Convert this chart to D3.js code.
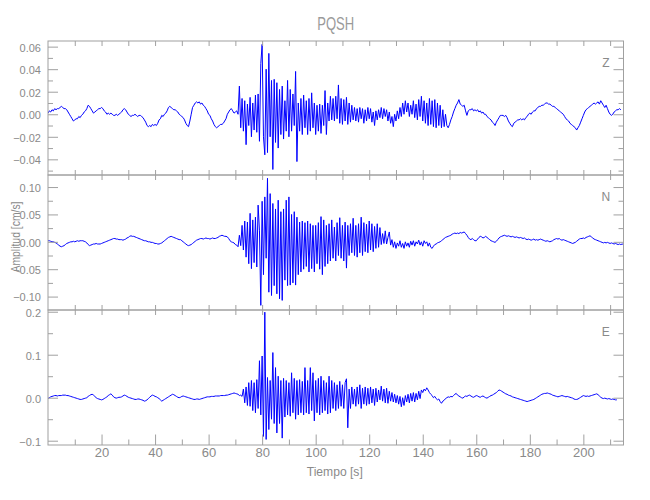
<!DOCTYPE html>
<html>
<head>
<meta charset="utf-8">
<script src="https://cdn.jsdelivr.net/npm/d3@7"></script>
<style>
  html, body { margin: 0; padding: 0; background: #fff; }
  svg { display: block; }
</style>
</head>
<body>
<svg id="chart" width="650" height="500"></svg>
<script>
// ---------------- DATA ----------------
const stationTitle = "PQSH";
const componentNames = ["Z", "N", "E"];
const xAxisTitle = "Tiempo [s]";
const yAxisTitle = "Amplitud [cm/s]";

// Sampling of the traces (seconds)
const sampleStart = 0;
const sampleStep = 0.5;

// Amplitudes in units of 0.001 cm/s, one value per sample
const zMilli = [
 1,3,2,4,3,5,4,5,5,6,
 7,6,5,5,4,2,0,-2,-4,-6,
 -5,-4,-4,-2,-3,-1,0,2,3,5,
 8,7,5,3,1,2,3,4,5,5,
 6,5,3,2,0,1,0,1,0,-1,
 -1,0,-1,0,1,2,4,5,4,2,
 0,-1,-2,-1,-1,0,-1,-2,-1,-1,
 -2,-3,-5,-7,-10,-11,-10,-11,-9,-10,
 -9,-10,-8,-5,-4,-1,-2,0,1,3,
 6,7,6,5,4,4,3,2,0,-1,
 -2,-3,-5,-8,-10,-11,-6,0,6,8,
 10,11,10,11,9,10,8,7,5,3,
 0,-1,-4,-6,-9,-11,-12,-11,-10,-9,
 -9,-8,-6,-4,0,2,4,5,3,1,
 2,3,0,25,-12,14,-15,12,-27,9,
 -10,15,-20,10,-14,17,-16,18,-24,45,
 62,-20,-36,40,-34,54,-20,30,-49,31,
 -25,28,-30,22,-18,25,-22,12,-15,30,
 -20,22,-15,18,-10,38,-42,10,-15,14,
 -18,17,-12,12,-18,14,-15,19,-12,10,
 -18,8,-15,9,-17,8,-10,21,-18,10,
 -6,16,-5,14,-6,16,-4,26,-8,14,
 -9,13,-6,15,-9,10,-7,8,-5,6,
 -6,5,-7,6,-4,5,-8,4,-6,6,
 -4,5,-7,2,-10,3,-5,4,-3,6,
 -4,5,-2,4,-6,2,-8,-2,-11,0,
 -6,3,-4,6,-2,10,0,12,2,10,
 -2,8,0,12,-3,9,-5,13,-2,16,
 -6,12,-8,10,-10,14,-9,12,-11,13,
 -12,10,-10,8,-12,4,-11,0,-10,-12,
 -9,-5,-2,2,5,8,10,13,9,8,
 7,8,3,-1,3,4,4,5,3,4,
 3,4,2,3,1,2,0,0,-2,-3,
 -4,-5,-7,-8,-10,-7,-5,-3,-1,-1,
 -1,-2,-1,-3,-6,-8,-10,-11,-8,-7,
 -6,-5,-5,-4,-5,-4,-5,-3,-2,0,
 1,0,2,3,3,5,6,7,7,8,
 8,9,10,10,9,9,8,7,7,6,
 5,4,3,2,1,0,-2,-4,-5,-6,
 -8,-9,-10,-11,-12,-14,-12,-10,-7,-4,
 -1,2,4,5,6,7,8,9,10,9,
 10,11,9,12,10,8,6,8,5,2,
 0,-1,0,2,3,4,4,5,4
];

const nMilli = [
 2,2,1,0,0,-1,-2,-4,-6,-8,
 -9,-8,-7,-5,-3,-2,-1,0,0,1,
 0,1,2,1,2,2,2,1,0,-2,
 -5,-7,-6,-5,-4,-4,-3,-4,-4,-4,
 -3,-2,-1,0,1,2,3,4,5,6,
 6,5,5,4,4,4,3,4,5,7,
 8,10,11,10,10,9,8,7,6,5,
 4,3,2,2,1,0,0,-1,-1,-2,
 -3,-3,-4,-4,-3,-2,0,2,4,6,
 8,9,10,9,8,7,6,5,4,4,
 2,0,-2,-4,-6,-7,-6,-5,-3,-1,
 1,3,4,5,6,6,5,6,7,6,
 6,5,6,7,6,6,7,8,10,11,
 12,11,10,10,9,6,2,0,-1,-2,
 -5,-6,-9,12,-7,30,-15,38,-28,36,
 -40,52,-49,40,-38,45,-46,67,20,-116,
 74,-60,82,-30,116,-92,88,-98,70,-80,
 60,-95,76,-104,55,-107,60,-70,76,-80,
 82,-79,50,-75,55,-79,45,-60,36,-55,
 38,-50,35,-45,38,-55,33,-49,30,-55,
 30,-40,35,-50,46,-60,40,-45,30,-40,
 33,-35,40,-30,27,-35,35,-25,44,-30,
 30,-35,36,-48,30,-25,33,-20,43,-25,
 30,-28,33,-20,45,-25,35,-18,32,-20,
 38,-15,33,-18,28,-12,33,-10,26,-5,
 15,-3,20,-4,8,18,-6,4,-10,0,
 -12,-2,-8,2,-10,-3,-12,0,-8,-2,
 -10,1,-6,2,-8,0,-4,3,-6,0,
 -8,2,-3,0,-8,-2,-10,-12,-8,-5,
 -4,-2,-1,0,2,4,6,8,9,10,
 11,12,14,15,16,15,16,15,17,16,
 17,18,15,12,8,5,4,6,4,2,
 2,5,8,10,9,7,8,10,8,6,
 4,2,1,0,-1,1,4,7,9,10,
 11,12,11,10,11,10,9,10,9,8,
 9,8,7,8,7,6,7,5,4,5,
 4,3,4,5,3,4,3,4,5,4,
 3,2,1,2,1,0,1,2,4,5,
 6,5,6,4,3,4,3,2,1,0,
 -1,-2,-3,-2,-1,1,3,5,6,6,
 7,6,8,9,10,11,9,7,5,4,
 3,2,1,0,-1,-2,-1,-2,-1,-2,
 -3,-2,-3,-4,-3,-4,-5,-4,-5,-4,-5
];

const eMilli = [
 -2,0,2,3,4,5,5,4,5,5,
 5,6,6,6,5,5,4,3,2,1,
 0,-1,-2,-3,-4,-4,-3,-2,-1,0,
 3,5,7,8,6,3,0,-2,-3,-4,
 -5,-4,-2,0,2,5,7,9,6,2,
 0,-1,0,1,1,2,4,6,5,3,
 1,0,-1,-2,-3,-4,-4,-3,-3,-4,
 -5,-6,-8,-7,-5,-2,1,4,6,5,
 3,2,0,-2,-5,-8,-6,-4,-2,0,
 2,4,6,8,7,5,3,1,0,1,
 3,4,3,2,1,0,-1,-2,-3,-4,
 -4,-3,-3,-4,-3,-2,-1,0,1,2,
 2,2,3,3,3,4,4,4,4,5,
 5,5,5,6,6,7,8,9,10,11,
 10,9,8,5,6,3,20,-12,25,-18,
 35,-20,40,-30,35,-35,42,-25,86,-40,
 97,-90,199,-97,47,-74,40,-50,105,-60,
 70,-82,50,-60,40,-94,45,-45,40,-40,
 35,-43,58,-35,45,-50,40,-40,42,-35,
 38,-40,70,-35,40,-38,70,-30,58,-54,
 40,-35,45,-40,50,-35,40,-30,35,-38,
 50,-35,40,-25,35,-30,30,-25,38,-20,
 30,-25,35,44,-70,20,-25,25,-15,20,
 -20,25,-15,30,-25,22,-15,25,-18,22,
 -15,25,-12,20,-18,22,-10,18,-5,27,
 -8,20,-12,22,-13,15,-8,12,-10,8,
 -12,5,-15,3,-21,0,-18,5,-10,8,
 -12,10,-8,12,-10,10,-5,15,-2,18,
 12,20,16,23,18,12,8,5,0,3,
 -2,-5,-3,-9,-13,-8,-6,-2,0,2,
 1,3,2,5,8,10,6,4,2,0,
 -1,2,4,3,5,6,4,2,1,3,
 5,4,2,1,3,4,2,0,-1,1,
 3,5,6,8,10,12,15,18,17,15,
 13,11,9,8,6,5,4,2,1,0,
 -1,-2,-3,-4,-5,-6,-7,-8,-9,-8,
 -7,-6,-5,-4,-2,0,2,4,6,8,
 9,10,10,11,10,9,8,6,5,4,
 3,2,3,4,5,4,3,2,3,2,
 1,0,-1,-3,-4,-4,-3,-1,1,3,
 5,4,3,4,3,4,5,6,7,8,
 9,7,4,1,-1,-2,-1,-2,-3,-2,
 -3,-4,-3,-4,-5,-5
];

// Axis ranges and ticks
const timeDomain = [0, 215];
const timeTickValues = [20, 40, 60, 80, 100, 120, 140, 160, 180, 200];
const timeTickLabels = ["20", "40", "60", "80", "100", "120", "140", "160", "180", "200"];
const timeMinorTicks = [10, 30, 50, 70, 90, 110, 130, 150, 170, 190, 210];

const zDomain = [-0.0539, 0.065];
const zTickValues = [-0.04, -0.02, 0.00, 0.02, 0.04, 0.06];
const zTickLabels = ["\u22120.04", "\u22120.02", "0.00", "0.02", "0.04", "0.06"];
const zMinorTicks = [-0.05, -0.03, -0.01, 0.01, 0.03, 0.05];

const nDomain = [-0.1245, 0.122];
const nTickValues = [-0.10, -0.05, 0.00, 0.05, 0.10];
const nTickLabels = ["\u22120.10", "\u22120.05", "0.00", "0.05", "0.10"];
const nMinorTicks = [-0.075, -0.025, 0.025, 0.075];

const eDomain = [-0.110, 0.204];
const eTickValues = [-0.1, 0.0, 0.1, 0.2];
const eTickLabels = ["\u22120.1", "0.0", "0.1", "0.2"];
const eMinorTicks = [-0.05, 0.05, 0.15];

// ---------------- DRAWING ----------------
const FONT = "'Liberation Sans', Arial, sans-serif";
const TEXT_COLOR = "#8a8a8a";
const AXIS_COLOR = "#a0a0a0";
const TRACE_COLOR = "#0000ff";

const left = 48, right = 623.5;
const panelTops = [41, 175, 310];
const panelBottoms = [175, 310, 445];

const svg = d3.select("#chart");
svg.append("rect").attr("width", 650).attr("height", 500).attr("fill", "#fff");

const x = d3.scaleLinear().domain(timeDomain).range([left, right]);

const panels = [
  { name: componentNames[0], vals: zMilli, domain: zDomain, ticks: zTickValues, labels: zTickLabels, minor: zMinorTicks },
  { name: componentNames[1], vals: nMilli, domain: nDomain, ticks: nTickValues, labels: nTickLabels, minor: nMinorTicks },
  { name: componentNames[2], vals: eMilli, domain: eDomain, ticks: eTickValues, labels: eTickLabels, minor: eMinorTicks }
];

const defs = svg.append("defs");

panels.forEach((p, i) => {
  const top = panelTops[i], bottom = panelBottoms[i];
  const y = d3.scaleLinear().domain(p.domain).range([bottom, top]);
  const data = p.vals.map((v, k) => ({ t: sampleStart + k * sampleStep, v: v / 1000 }));

  defs.append("clipPath").attr("id", "clip" + i)
    .append("rect").attr("x", left).attr("y", top)
    .attr("width", right - left).attr("height", bottom - top);

  const g = svg.append("g");

  // trace
  g.append("path")
    .datum(data)
    .attr("clip-path", "url(#clip" + i + ")")
    .attr("fill", "none")
    .attr("stroke", TRACE_COLOR)
    .attr("stroke-width", 1)
    .attr("d", d3.line().x(d => x(d.t)).y(d => y(d.v)));

  // left axis (labelled)
  const leftAxis = d3.axisLeft(y).tickValues(p.ticks)
    .tickFormat((d, k) => p.labels[k]).tickSizeInner(-10).tickSizeOuter(0).tickPadding(7);
  const la = g.append("g").attr("transform", `translate(${left},0)`).call(leftAxis);
  const leftMinor = d3.axisLeft(y).tickValues(p.minor).tickFormat("").tickSizeInner(-5).tickSizeOuter(0);
  const lm = g.append("g").attr("transform", `translate(${left},0)`).call(leftMinor);

  // right axis (ticks only)
  const rightAxis = d3.axisRight(y).tickValues(p.ticks).tickFormat("").tickSizeInner(-10).tickSizeOuter(0);
  const ra = g.append("g").attr("transform", `translate(${right},0)`).call(rightAxis);
  const rightMinor = d3.axisRight(y).tickValues(p.minor).tickFormat("").tickSizeInner(-5).tickSizeOuter(0);
  const rm = g.append("g").attr("transform", `translate(${right},0)`).call(rightMinor);

  // top axis ticks
  const allTimeTicks = timeTickValues.concat(timeMinorTicks);
  const topAxis = d3.axisTop(x).tickValues(allTimeTicks).tickFormat("").tickSizeInner(-5).tickSizeOuter(0);
  const ta = g.append("g").attr("transform", `translate(0,${top})`).call(topAxis);

  // bottom axis
  let ba;
  if (i === panels.length - 1) {
    const bottomAxis = d3.axisBottom(x).tickValues(timeTickValues)
      .tickFormat((d, k) => timeTickLabels[k]).tickSizeInner(-10.5).tickSizeOuter(0).tickPadding(3);
    ba = g.append("g").attr("transform", `translate(0,${bottom})`).call(bottomAxis);
    const bottomMinor = d3.axisBottom(x).tickValues(timeMinorTicks).tickFormat("").tickSizeInner(-5.5).tickSizeOuter(0);
    g.append("g").attr("transform", `translate(0,${bottom})`).call(bottomMinor)
      .call(s => s.select(".domain").remove())
      .call(s => s.selectAll("line").attr("stroke", AXIS_COLOR));
  } else {
    const bottomAxis = d3.axisBottom(x).tickValues(allTimeTicks).tickFormat("").tickSizeInner(-5).tickSizeOuter(0);
    ba = g.append("g").attr("transform", `translate(0,${bottom})`).call(bottomAxis);
  }

  [la, lm, ra, rm, ta, ba].forEach(a => {
    a.select(".domain").remove();
    a.selectAll("line").attr("stroke", AXIS_COLOR);
    a.selectAll("text").attr("fill", TEXT_COLOR).attr("font-family", FONT);
  });
  la.selectAll("text").attr("font-size", 11).attr("dy", "0.4em");
  if (i === panels.length - 1) ba.selectAll("text").attr("font-size", 13);

  // frame
  g.append("rect").attr("x", left).attr("y", top)
    .attr("width", right - left).attr("height", bottom - top)
    .attr("fill", "none").attr("stroke", AXIS_COLOR).attr("stroke-width", 1);

  // component label
  g.append("text")
    .attr("x", x(208.4)).attr("y", top + 25.5)
    .attr("text-anchor", "middle")
    .attr("font-family", FONT).attr("font-size", 12)
    .attr("fill", TEXT_COLOR)
    .text(p.name);
});

// title
svg.append("text")
  .attr("x", (left + right) / 2).attr("y", 30)
  .attr("text-anchor", "middle")
  .attr("font-family", FONT).attr("font-size", 19)
  .attr("fill", "#9a9a9a")
  .attr("textLength", 37).attr("lengthAdjust", "spacingAndGlyphs")
  .text(stationTitle);

// x axis title
svg.append("text")
  .attr("x", (left + right) / 2 - 1).attr("y", 476)
  .attr("text-anchor", "middle")
  .attr("font-family", FONT).attr("font-size", 13)
  .attr("fill", TEXT_COLOR)
  .attr("textLength", 56).attr("lengthAdjust", "spacingAndGlyphs")
  .text(xAxisTitle);

// y axis title
svg.append("text")
  .attr("transform", "translate(19.5,237) rotate(-90)")
  .attr("text-anchor", "middle")
  .attr("font-family", FONT).attr("font-size", 13)
  .attr("fill", TEXT_COLOR)
  .attr("textLength", 71).attr("lengthAdjust", "spacingAndGlyphs")
  .text(yAxisTitle);
</script>
</body>
</html>
